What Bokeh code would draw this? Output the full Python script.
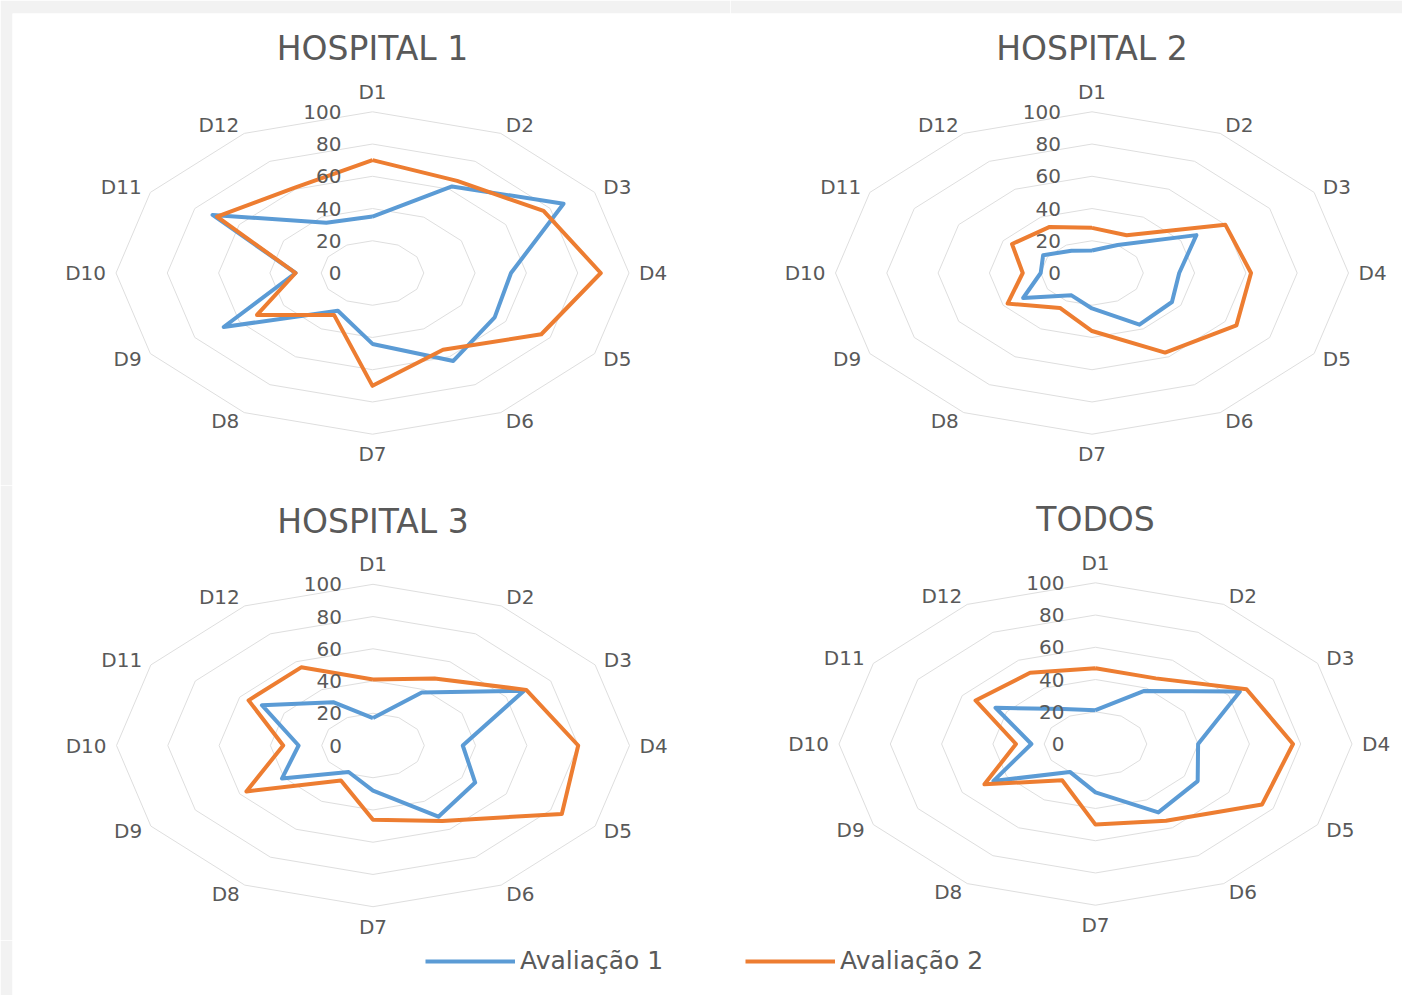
import numpy as np
from bokeh.plotting import figure
from bokeh.models import Range1d, Legend, LegendItem
from bokeh.layouts import column, row
from bokeh.core.properties import value
from bokeh.embed import file_html
from bokeh.resources import INLINE

# ---------------- data ----------------
categories = ["D1", "D2", "D3", "D4", "D5", "D6", "D7", "D8", "D9", "D10", "D11", "D12"]
tick_values = [0, 20, 40, 60, 80, 100]
series_names = ["Avaliação 1", "Avaliação 2"]
panel_titles = ["HOSPITAL 1", "HOSPITAL 2", "HOSPITAL 3", "TODOS"]

h1_av1 = [35, 62, 86, 54, 55, 63, 44, 27, 67, 30, 72, 36]
h1_av2 = [70, 66, 77, 89, 76, 55, 70, 30, 52, 30, 70, 61]
h2_av1 = [14, 20, 47, 34, 36, 37, 22, 16, 31, 20, 22, 16]
h2_av2 = [28, 27, 60, 62, 65, 57, 36, 25, 38, 27, 36, 33]
h3_av1 = [17, 38, 68, 35, 46, 51, 28, 19, 41, 29, 50, 31]
h3_av2 = [41, 48, 69, 80, 85, 54, 46, 25, 57, 35, 56, 56]
all_av1 = [21, 38, 65, 40, 46, 49, 30, 20, 46, 25, 45, 25]
all_av2 = [47, 47, 68, 77, 75, 55, 50, 26, 50, 31, 54, 51]

# ---------------- style ----------------
BLUE = "#5B9BD5"
ORANGE = "#ED7D31"
GRID = "#dedede"
TXT = "#595959"
BAND = "#f2f2f2"
FONT = value("DejaVu Sans")
SX = 2.565   # px per unit horizontally (chart is stretched)
SY = 1.612   # px per unit vertically
LW = 4

ang = np.deg2rad(np.arange(len(categories)) * 30.0)
sin_a = np.sin(ang)
cos_a = np.cos(ang)


def make_radar(title, av1, av2, w, h, bl, bt, page_x, page_y, cx, cy):
    fx0 = page_x + bl
    fx1 = page_x + w
    fy0 = page_y + bt
    fy1 = page_y + h
    xr = Range1d(-(cx - fx0) / SX, (fx1 - cx) / SX)
    yr = Range1d(-(fy1 - cy) / SY, (cy - fy0) / SY)
    p = figure(width=w, height=h, x_range=xr, y_range=yr, output_backend="svg",
               toolbar_location=None, tools="", x_axis_type=None, y_axis_type=None,
               min_border=0)
    p.min_border_left = bl
    p.min_border_top = bt
    p.min_border_right = 0
    p.min_border_bottom = 0
    p.outline_line_color = None
    p.border_fill_color = BAND
    p.background_fill_color = "white"
    p.grid.visible = False

    # rings
    ring_xs, ring_ys = [], []
    for r in tick_values[1:]:
        ring_xs.append(list(np.append(r * sin_a, r * sin_a[0])))
        ring_ys.append(list(np.append(r * cos_a, r * cos_a[0])))
    p.multi_line(ring_xs, ring_ys, line_color=GRID, line_width=1)

    # series
    for vals, col in ((av1, BLUE), (av2, ORANGE)):
        v = np.array(vals, dtype=float)
        xs = np.append(v * sin_a, v[0] * sin_a[0])
        ys = np.append(v * cos_a, v[0] * cos_a[0])
        p.line(xs, ys, line_color=col, line_width=LW, line_join="round")

    # value labels
    p.text(x=[-31 / SX] * len(tick_values), y=tick_values, text=[str(t) for t in tick_values],
           text_align="right", text_baseline="middle", text_font=FONT,
           text_font_size="20px", text_color=TXT)

    # category labels
    groups = {"left": ([], [], []), "right": ([], [], []), "center": ([], [], [])}
    for i, c in enumerate(categories):
        s, co = sin_a[i], cos_a[i]
        if abs(s) < 1e-6:
            gx, gy = 0.0, 20.0 * co
            key = "center"
        else:
            gx, gy = 10.0 * s, 10.0 * co
            key = "left" if s > 0 else "right"
        groups[key][0].append(100 * s + gx / SX)
        groups[key][1].append(100 * co + gy / SY)
        groups[key][2].append(c)
    for key, (xs, ys, ts) in groups.items():
        p.text(x=xs, y=ys, text=ts, text_align=key, text_baseline="middle",
               text_font=FONT, text_font_size="20px", text_color=TXT)

    # title
    p.text(x=[0], y=[224.5 / SY], text=[title], text_align="center", text_baseline="middle",
           text_font=FONT, text_font_size="33px", text_color=TXT)
    return p


W, H = 1402, 995
XS, Y1, Y2 = 730, 485, 940
BL, BT = 12, 13

f1 = make_radar(panel_titles[0], h1_av1, h1_av2, XS, Y1, BL, BT, 0, 0, 372, 272.5)
f2 = make_radar(panel_titles[1], h2_av1, h2_av2, W - XS, Y1, 0, BT, XS, 0, 1091.5, 272.5)
f3 = make_radar(panel_titles[2], h3_av1, h3_av2, XS, Y2 - Y1, BL, 0, 0, Y1, 372.5, 745)
f4 = make_radar(panel_titles[3], all_av1, all_av2, W - XS, Y2 - Y1, 0, 0, XS, Y1, 1095, 743.5)

leg = figure(width=W, height=H - Y2, x_range=Range1d(0, 1), y_range=Range1d(0, 1),
             output_backend="svg", toolbar_location=None, tools="",
             x_axis_type=None, y_axis_type=None, min_border=0)
leg.min_border_left = BL
leg.min_border_top = 0
leg.min_border_right = 0
leg.min_border_bottom = 0
leg.outline_line_color = None
leg.border_fill_color = BAND
leg.background_fill_color = "white"
leg.grid.visible = False
# legend proxies: placed outside the visible range, only used for the legend glyphs
r1 = leg.line(x=[-10, -9], y=[-10, -9], line_color=BLUE, line_width=LW)
r2 = leg.line(x=[-10, -9], y=[-10, -9], line_color=ORANGE, line_width=LW)
legend = Legend(items=[LegendItem(label=series_names[0], renderers=[r1]),
                       LegendItem(label=series_names[1], renderers=[r2])],
                orientation="horizontal", location=(413, 20),
                glyph_width=90, glyph_height=20, label_height=20,
                label_standoff=5, label_width=177, spacing=48,
                padding=0, margin=0, border_line_color=None,
                background_fill_alpha=0,
                label_text_font="DejaVu Sans", label_text_font_size="25px",
                label_text_color=TXT)
leg.add_layout(legend)

layout = column(row(f1, f2), row(f3, f4), leg)
open("out.html", "w").write(file_html(layout, INLINE))
